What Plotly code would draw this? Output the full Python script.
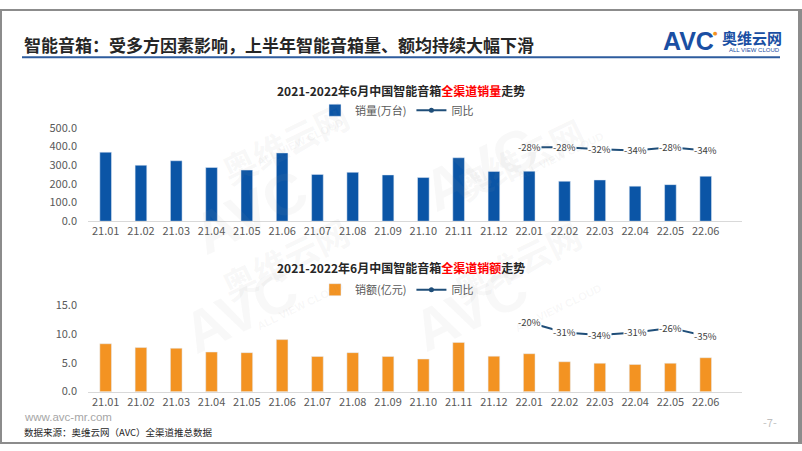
import plotly.graph_objects as go

# ---------------- data ----------------
months = ["21.01", "21.02", "21.03", "21.04", "21.05", "21.06", "21.07", "21.08", "21.09",
          "21.10", "21.11", "21.12", "22.01", "22.02", "22.03", "22.04", "22.05", "22.06"]
sales_volume = [370, 300, 324, 288, 274, 366, 251, 262, 248, 234, 340, 267, 268, 214, 221, 188, 196, 241]
sales_value = [8.33, 7.67, 7.55, 6.89, 6.78, 9.05, 6.11, 6.78, 6.11, 5.67, 8.56, 6.17, 6.6, 5.2, 4.94, 4.72, 4.94, 5.9]
yoy_months = ["22.01", "22.02", "22.03", "22.04", "22.05", "22.06"]
volume_yoy = [-28, -28, -32, -34, -28, -34]
value_yoy = [-20, -31, -34, -31, -26, -35]

volume_ticks = [0, 100, 200, 300, 400, 500]
value_ticks = [0, 5, 10, 15]

# ---------------- style ----------------
W, H = 802, 451
FONT = "Noto Sans CJK SC"
BLUE = "#0B55A6"
ORANGE = "#F39322"
LINE = "#1F4E79"
TICK = "#595959"


def fx(p):
    return p / W


def fy(p):
    return 1 - p / H


fig = go.Figure()

fig.add_trace(go.Bar(x=months, y=sales_volume, name="销量(万台)", marker_color=BLUE,
                     xaxis="x", yaxis="y", legend="legend"))
fig.add_trace(go.Scatter(x=yoy_months, y=volume_yoy, name="同比", mode="lines+markers",
                         line=dict(color=LINE, width=2), marker=dict(size=5, color=LINE),
                         xaxis="x", yaxis="y2", legend="legend"))
fig.add_trace(go.Bar(x=months, y=sales_value, name="销额(亿元)", marker_color=ORANGE,
                     xaxis="x2", yaxis="y3", legend="legend2"))
fig.add_trace(go.Scatter(x=yoy_months, y=value_yoy, name="同比", mode="lines+markers",
                         line=dict(color=LINE, width=2), marker=dict(size=5, color=LINE),
                         xaxis="x2", yaxis="y4", legend="legend2"))

xdom = [fx(88), fx(741.5)]
axis_common = dict(showgrid=False, zeroline=False, tickfont=dict(family=FONT, size=11, color=TICK))

annotations = []
# YoY labels with white background (break the line like the original);
# category axes take the serial index of the category
for m, v in zip(yoy_months, volume_yoy):
    annotations.append(dict(x=months.index(m), y=v, xref="x", yref="y2", text=f"-{abs(v)}%", showarrow=False,
                            bgcolor="white", borderpad=0,
                            font=dict(family=FONT, size=9.5, color="#404040")))
for m, v in zip(yoy_months, value_yoy):
    annotations.append(dict(x=months.index(m), y=v, xref="x2", yref="y4", text=f"-{abs(v)}%", showarrow=False,
                            bgcolor="white", borderpad=0,
                            font=dict(family=FONT, size=9.5, color="#404040")))

# watermarks
wm = "rgba(150,150,150,0.07)"
for (ax, ay), (bx, by), (cx, cy) in [((180, 150), (285, 82), (300, 108)),
                                     ((480, 165), (595, 98), (608, 122)),
                                     ((170, 372), (285, 315), (300, 338)),
                                     ((470, 370), (592, 318), (606, 340))]:
    annotations.append(dict(x=fx(ax), y=fy(ay), xref="paper", yref="paper", text="<b>AVC</b>",
                            showarrow=False, textangle=-26,
                            font=dict(family="Liberation Sans", size=58, color=wm)))
    annotations.append(dict(x=fx(bx), y=fy(by), xref="paper", yref="paper", text="<b>奥维云网</b>",
                            showarrow=False, textangle=-26,
                            font=dict(family=FONT, size=34, color=wm)))
    annotations.append(dict(x=fx(cx), y=fy(cy), xref="paper", yref="paper", text="<b>ALL VIEW CLOUD</b>",
                            showarrow=False, textangle=-26,
                            font=dict(family="Liberation Sans", size=11, color=wm)))

# page title
annotations.append(dict(x=fx(22), y=fy(37), xref="paper", yref="paper", xanchor="left", yanchor="middle",
                        text="<b>智能音箱：受多方因素影响，上半年智能音箱量、额均持续大幅下滑</b>",
                        showarrow=False, font=dict(family=FONT, size=17, color="#262626")))
# logo
annotations.append(dict(x=fx(661), y=fy(33), xref="paper", yref="paper", xanchor="left", yanchor="middle",
                        text="<b>AVC</b>", showarrow=False,
                        font=dict(family="Liberation Sans", size=25, color="#1A4FA3")))
annotations.append(dict(x=fx(715), y=fy(25), xref="paper", yref="paper", xanchor="center", yanchor="middle",
                        text="●", showarrow=False, font=dict(family="DejaVu Sans", size=5, color="#F39322")))
annotations.append(dict(x=fx(752), y=fy(30), xref="paper", yref="paper", xanchor="center", yanchor="middle",
                        text="<b>奥维云网</b>", showarrow=False, font=dict(family=FONT, size=15, color="#1A4FA3")))
annotations.append(dict(x=fx(754), y=fy(43), xref="paper", yref="paper", xanchor="center", yanchor="middle",
                        text="ALL VIEW CLOUD", showarrow=False,
                        font=dict(family="Liberation Sans", size=6, color="#1A4FA3")))
# chart titles
annotations.append(dict(x=0.5, y=fy(85), xref="paper", yref="paper", xanchor="center", yanchor="middle",
                        text="<b>2021-2022年6月中国智能音箱<span style='color:#FF0000'>全渠道销量</span>走势</b>",
                        showarrow=False, font=dict(family=FONT, size=12, color="#262626")))
annotations.append(dict(x=0.5, y=fy(268), xref="paper", yref="paper", xanchor="center", yanchor="middle",
                        text="<b>2021-2022年6月中国智能音箱<span style='color:#FF0000'>全渠道销额</span>走势</b>",
                        showarrow=False, font=dict(family=FONT, size=12, color="#262626")))
# footer
annotations.append(dict(x=fx(22), y=fy(423.5), xref="paper", yref="paper", xanchor="left", yanchor="middle",
                        text="www.avc-mr.com", showarrow=False,
                        font=dict(family="Liberation Sans", size=11.5, color="#A6A6A6")))
annotations.append(dict(x=fx(22), y=fy(439), xref="paper", yref="paper", xanchor="left", yanchor="middle",
                        text="数据来源：奥维云网（AVC）全渠道推总数据", showarrow=False,
                        font=dict(family=FONT, size=9.5, color="#262626")))
annotations.append(dict(x=fx(770), y=fy(428), xref="paper", yref="paper", xanchor="center", yanchor="middle",
                        text="-7-", showarrow=False, font=dict(family=FONT, size=11, color="#BFBFBF")))

shapes = [
    dict(type="line", xref="paper", yref="paper", x0=fx(22), x1=fx(780), y0=fy(50), y1=fy(50),
         line=dict(color="#2E5C9E", width=2)),
    # frame
    dict(type="rect", xref="paper", yref="paper", x0=0, x1=fx(2), y0=0, y1=1, fillcolor="#8C8C8C", line_width=0),
    dict(type="rect", xref="paper", yref="paper", x0=fx(798), x1=1, y0=0, y1=1, fillcolor="#8C8C8C", line_width=0),
    dict(type="rect", xref="paper", yref="paper", x0=0, x1=1, y0=fy(2), y1=1, fillcolor="#8C8C8C", line_width=0),
    dict(type="rect", xref="paper", yref="paper", x0=0, x1=1, y0=0, y1=fy(449), fillcolor="#8C8C8C", line_width=0),
]

legend_common = dict(orientation="h", xanchor="center", yanchor="middle", x=0.495,
                     font=dict(family=FONT, size=11, color=TICK), bgcolor="rgba(0,0,0,0)",
                     itemwidth=30, tracegroupgap=0)

fig.update_layout(
    width=W, height=H, autosize=False,
    margin=dict(l=0, r=0, t=0, b=0),
    paper_bgcolor="white", plot_bgcolor="white",
    bargap=0.67,
    showlegend=True,
    font=dict(family=FONT),
    xaxis=dict(domain=xdom, anchor="y", type="category", showline=True, linecolor="#D9D9D9",
               ticks="", tickangle=0, **axis_common),
    yaxis=dict(domain=[fy(220), fy(123.3)], anchor="x", range=[0, 500], tickvals=volume_ticks,
               tickformat=".1f", showline=False, ticklabelstandoff=10, **axis_common),
    yaxis2=dict(overlaying="y", anchor="x", range=[-165, 7.7], visible=False),
    xaxis2=dict(domain=xdom, anchor="y3", type="category", showline=True, linecolor="#D9D9D9",
                ticks="", tickangle=0, **axis_common),
    yaxis3=dict(domain=[fy(396.7), fy(307.3)], anchor="x2", range=[0, 15], tickvals=value_ticks,
                tickformat=".1f", showline=False, ticklabelstandoff=10, **axis_common),
    yaxis4=dict(overlaying="y3", anchor="x2", range=[-96.8, -1], visible=False),
    legend=dict(y=fy(105), **legend_common),
    legend2=dict(y=fy(291), **legend_common),
    annotations=annotations,
    shapes=shapes,
)

fig.write_html("out.html", config={"displayModeBar": False},
               post_script="document.body.style.margin='0';document.body.style.overflow='hidden';")
